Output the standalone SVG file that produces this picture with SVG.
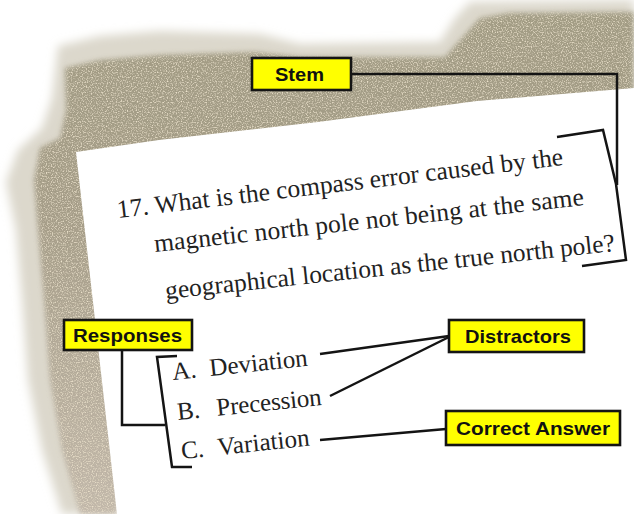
<svg xmlns="http://www.w3.org/2000/svg" width="634" height="514" viewBox="0 0 634 514">
  <defs>
    <filter id="blurOuter" x="-20%" y="-20%" width="140%" height="140%">
      <feGaussianBlur stdDeviation="5"/>
    </filter>
    <filter id="speckle" x="-20%" y="-20%" width="140%" height="140%">
      <feGaussianBlur in="SourceGraphic" stdDeviation="2.5" result="b"/>
      <feTurbulence type="fractalNoise" baseFrequency="0.8" numOctaves="1" seed="7" result="n"/>
      <feColorMatrix in="n" type="matrix" values="0 0 0 0 0.86  0 0 0 0 0.78  0 0 0 0 0.62  3 0 0 0 -1.45" result="dots"/>
      <feComposite in="dots" in2="b" operator="in" result="d2"/>
      <feMerge><feMergeNode in="b"/><feMergeNode in="d2"/></feMerge>
    </filter>
    <linearGradient id="shadowGrad" x1="0" y1="0" x2="0" y2="1">
      <stop offset="0" stop-color="#a29c84"/>
      <stop offset="0.4" stop-color="#a59d88"/>
      <stop offset="1" stop-color="#c2b8aa"/>
    </linearGradient>
    <style>
      .qtext { font-family: "Liberation Serif", "Times New Roman", serif; font-size: 25.5px; fill: #222; }
      .atext { font-family: "Liberation Serif", "Times New Roman", serif; font-size: 25px; fill: #222; }
      .lbox { fill: #ffff00; stroke: #141414; stroke-width: 2.6; }
      .ltext { font-family: "Liberation Sans", Arial, sans-serif; font-weight: bold; font-size: 19px; fill: #111; }
      .conn { fill: none; stroke: #141414; stroke-width: 2.5; stroke-linejoin: miter; }
    </style>
  </defs>

  <rect x="0" y="0" width="634" height="514" fill="#ffffff"/>

  <!-- burnt shadow behind the sheet -->
  <g id="shadow">
    <path filter="url(#blurOuter)" fill="#dcd8cc" d="M58,46 L100,36 L160,31 L260,34 L300,44 L440,42 L455,18 L470,2 L634,0 L634,140 L300,200 L140,320 L117,514 L62,514 L42,450 L28,380 L22,300 L16,230 L6,182 L18,150 L42,128 L52,98 Z"/>
    <path filter="url(#speckle)" fill="url(#shadowGrad)" d="M65,68 L100,60 L160,55 L255,52 L300,57 L445,57 L462,38 L480,18 L510,13 L634,12 L634,140 L300,200 L140,320 L117,514 L80,514 L62,450 L50,380 L44,300 L38,230 L34,180 L40,148 L60,138 L66,110 Z"/>
  </g>

  <!-- the sheet of paper -->
  <g id="paper">
    <polygon points="76,152 159,140 318,122 477,101 634,88 634,514 117,514" fill="#ffffff"/>
  </g>

  <!-- question stem -->
  <g id="question">
    <text class="qtext" transform="translate(118,218) rotate(-6.78)" textLength="449" lengthAdjust="spacing">17. What is the compass error caused by the</text>
    <text class="qtext" transform="translate(155,252) rotate(-6.24)" textLength="432" lengthAdjust="spacing">magnetic north pole not being at the same</text>
    <text class="qtext" transform="translate(166,299) rotate(-6.1)" textLength="452" lengthAdjust="spacing">geographical location as the true north pole?</text>
  </g>

  <!-- responses -->
  <g id="responseA">
    <text class="atext" transform="translate(173,380) rotate(-6)"><tspan x="0">A.</tspan><tspan x="37.5" textLength="98.5" lengthAdjust="spacing">Deviation</tspan></text>
  </g>
  <g id="responseB">
    <text class="atext" transform="translate(178,420) rotate(-6)"><tspan x="0">B.</tspan><tspan x="39.5" textLength="105.5" lengthAdjust="spacing">Precession</tspan></text>
  </g>
  <g id="responseC">
    <text class="atext" transform="translate(182,459) rotate(-6)"><tspan x="0">C.</tspan><tspan x="36.5" textLength="92.5" lengthAdjust="spacing">Variation</tspan></text>
  </g>

  <!-- connectors and brackets -->
  <g id="connectors">
    <polyline class="conn" points="557,137 603,130 616,184 626,260 582,266"/>
    <polyline class="conn" points="351,74 617,74 617,185"/>
    <polyline class="conn" points="177,356 157,357 172,467 192,467"/>
    <polyline class="conn" points="122,350 122,425 165,425"/>
    <line class="conn" x1="320" y1="354" x2="449" y2="336"/>
    <line class="conn" x1="330" y1="396" x2="449" y2="337"/>
    <line class="conn" x1="320" y1="440" x2="446" y2="429"/>
  </g>

  <!-- labels -->
  <g id="stem">
    <rect class="lbox" x="252" y="58" width="99" height="32"/>
    <text class="ltext" x="275" y="81" textLength="49" lengthAdjust="spacingAndGlyphs">Stem</text>
  </g>
  <g id="responses">
    <rect class="lbox" x="64" y="320" width="128" height="30"/>
    <text class="ltext" x="73" y="342" textLength="109" lengthAdjust="spacingAndGlyphs">Responses</text>
  </g>
  <g id="distractors">
    <rect class="lbox" x="449" y="320" width="135" height="32"/>
    <text class="ltext" x="465" y="343" textLength="106" lengthAdjust="spacingAndGlyphs">Distractors</text>
  </g>
  <g id="correct-answer">
    <rect class="lbox" x="446" y="411" width="174" height="34"/>
    <text class="ltext" x="456" y="435" textLength="154" lengthAdjust="spacingAndGlyphs">Correct Answer</text>
  </g>
</svg>
